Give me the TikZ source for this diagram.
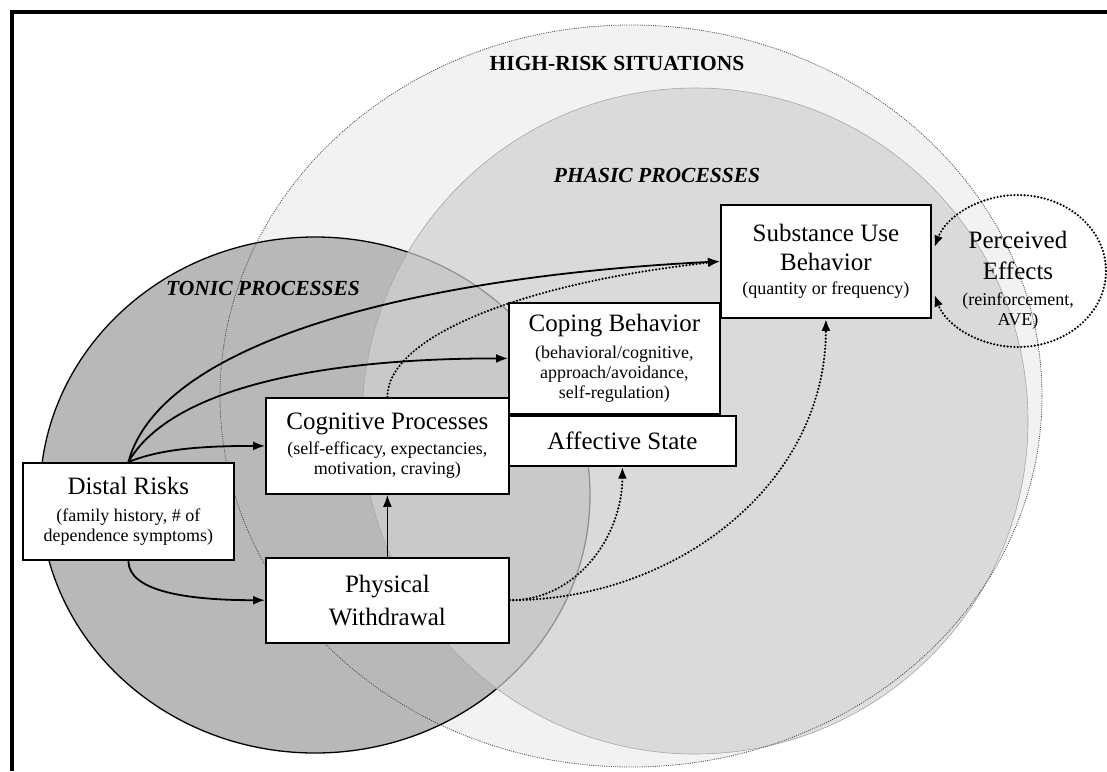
\documentclass[tikz,border=0pt]{standalone}
\usepackage{fontspec}
\setmainfont{Liberation Serif}
\usepackage{tikz}
\usetikzlibrary{arrows.meta, positioning, shapes.geometric}

\newcommand{\boxhead}[1]{{\fontsize{25}{25}\selectfont #1}}

\begin{document}
\begin{tikzpicture}[
    x = 1pt, y = 1pt,
    box/.style  = {
      rectangle, draw = black, line width = 1.8pt, fill = white,
      anchor = north west, inner sep = 0pt, align = center,
      font = \fontsize{18}{20}\selectfont
    },
    zone/.style = {font = \fontsize{21.5}{24}\selectfont\bfseries},
    arr/.style  = {-{Latex[length=12pt, width=9pt]}, line width = 1.8pt},
    darr/.style = {arr, line width = 2.4pt, line cap = round,
                   dash pattern = on 0pt off 3.4pt}
  ]
    \useasboundingbox (0,0) rectangle (1107,-771);

    % ── Areas ────────────────────────────────────────────────────────────────
    \fill[gray!10] (631,-396) ellipse [x radius=411pt, y radius=371pt];
    \filldraw[fill = gray!56, draw = black, line width = 1.3pt]
      (315,-495) ellipse [x radius=275pt, y radius=258pt];
    \fill[gray!36, fill opacity = .7] (695,-421) circle [radius=333pt];
    \draw[gray!70, line width = .6pt] (695,-421) circle [radius=333pt];
    \draw[black!70, line width = .8pt, dash pattern = on 1pt off 1.2pt]
      (631,-396) ellipse [x radius=411pt, y radius=371pt];

    \node[zone]          (hrs) at (617,-63)  {HIGH-RISK SITUATIONS};
    \node[zone, font = \fontsize{21.5}{24}\selectfont\bfseries\itshape]
                         (pha) at (657,-175) {PHASIC PROCESSES};
    \node[zone, font = \fontsize{21.5}{24}\selectfont\bfseries\itshape]
                         (ton) at (263,-288) {TONIC PROCESSES};

    % frame
    \draw[line width = 3.8pt] (12,-771) -- (12,-12) -- (1107,-12);

    % ── Nodes ────────────────────────────────────────────────────────────────
    \node[box, minimum width = 210pt, minimum height = 113pt] (sub) at (720,-204)
      {\boxhead{Substance Use}\\[9pt]\boxhead{Behavior}\\[4pt](quantity or frequency)};
    \node[box, minimum width = 211pt, minimum height = 111pt] (cope) at (508,-302)
      {\boxhead{Coping Behavior}\\[7pt](behavioral/cognitive,\\approach/avoidance,\\self-regulation)};
    \node[box, minimum width = 227pt, minimum height = 50pt] (aff) at (cope.south west)
      {\boxhead{Affective State}};
    \node[box, minimum width = 243pt, minimum height = 96pt] (cog) at (265,-397)
      {\boxhead{Cognitive Processes}\\[5pt](self-efficacy, expectancies,\\motivation, craving)};
    \node[box, minimum width = 211pt, minimum height = 97pt] (dist) at (22,-462)
      {\boxhead{Distal Risks}\\[7pt](family history, \# of\\dependence symptoms)};
    \node[box, minimum width = 243pt, minimum height = 85pt, below = 62pt of cog] (phys)
      {\boxhead{Physical}\\[9pt]\boxhead{Withdrawal}};
    \node[ellipse, minimum width = 176pt, minimum height = 152pt, inner sep = 0pt,
          outer sep = 0pt] (pe) at (1018,-271) {};
    \node[align = center, font = \fontsize{18}{20}\selectfont, inner sep = 0pt]
      (pet) at ([yshift=-9pt]pe.center)
      {\boxhead{Perceived}\\[11pt]\boxhead{Effects}\\[6pt](reinforcement,\\AVE)};

    % ── Arrows ───────────────────────────────────────────────────────────────
    \draw[arr] (dist.north) .. controls +(33,122) and +(-300,-15) .. (sub.west);
    \draw[arr] (dist.north) .. controls +(40,70) and +(-200,0) .. (cope.west);
    \draw[arr] (dist.north) .. controls +(30,12) and +(-70,0) .. (cog.west);
    \draw[arr] (dist.south) .. controls +(0,-30) and +(-80,0) .. (phys.west);
    \draw[arr] (phys.north) -- (cog.south);

    \draw[darr] (phys.east) to[out=0, in=-90] (aff.south);
    \draw[darr] (phys.east) to[out=0, in=-90] (sub.south);
    \draw[darr] (cog.north) .. controls +(0,60) and +(-200,-22) .. (sub.west);

    \draw[darr] (pe.east) arc [start angle=0, end angle=162, x radius=88pt, y radius=76pt];
    \draw[darr] (pe.east) arc [start angle=0, end angle=-162, x radius=88pt, y radius=76pt];
  \end{tikzpicture}
\end{document}
